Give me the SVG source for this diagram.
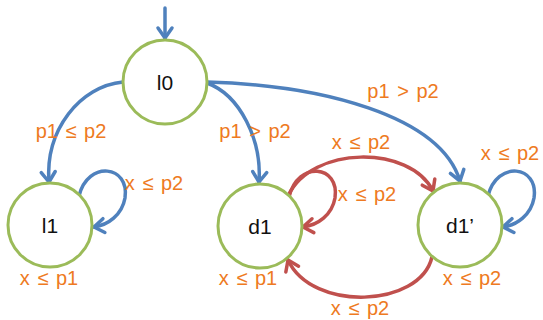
<svg xmlns="http://www.w3.org/2000/svg" width="543" height="320" viewBox="0 0 543 320">
<defs>
<style>
.node{fill:#fff;stroke:#9BBB59;stroke-width:3}
.nl{font-family:"Liberation Sans",Arial,sans-serif;font-size:21px;fill:#111;text-anchor:middle}
.lb{font-family:"Liberation Sans",Arial,sans-serif;font-size:20px;fill:#EE7A22;text-anchor:middle;word-spacing:2px}
.b{fill:none;stroke:#4F81BD;stroke-width:3.5;stroke-linecap:round}
.r{fill:none;stroke:#C0504D;stroke-width:3.5;stroke-linecap:round}
</style>
<marker id="ab" markerUnits="userSpaceOnUse" orient="auto" markerWidth="20" markerHeight="20" refX="0" refY="0" viewBox="-12 -10 14 20" overflow="visible">
<path d="M-10,-7 L0,0 L-10,7" fill="none" stroke="#4F81BD" stroke-width="3.5" stroke-linecap="round" stroke-linejoin="round"/>
</marker>
<marker id="ar" markerUnits="userSpaceOnUse" orient="auto" markerWidth="20" markerHeight="20" refX="0" refY="0" viewBox="-12 -10 14 20" overflow="visible">
<path d="M-10,-7 L0,0 L-10,7" fill="none" stroke="#C0504D" stroke-width="3.5" stroke-linecap="round" stroke-linejoin="round"/>
</marker>
</defs>
<rect width="543" height="320" fill="#fff"/>
<g id="connectors">
<path class="b" d="M165,8 L165,38" marker-end="url(#ab)"/>
<path class="b" d="M123,82 C80,86 45,130 49,182" marker-end="url(#ab)"/>
<path class="b" d="M207,83 C240,95 262,140 259,182" marker-end="url(#ab)"/>
<path class="b" d="M207,82 C320,85 440,115 460,181" marker-end="url(#ab)"/>
<path class="b" d="M79,196 C88,160 130,165 125,198 C122,215 108,225 94,227" marker-end="url(#ab)"/>
<path class="b" d="M488,196 C497,160 539,165 534,198 C531,215 517,225 503,227" marker-end="url(#ab)"/>
<path class="r" d="M289,197 C298,160 340,165 335,198 C332,215 318,225 303,227" marker-end="url(#ar)"/>
<path class="r" d="M288,196 C312,145 410,145 433,191" marker-end="url(#ar)"/>
<path class="r" d="M432,257 C420,308 312,312 288,260" marker-end="url(#ar)"/>
</g>
<g id="l0"><circle class="node" cx="165" cy="82" r="42"/><text class="nl" x="165" y="90">l0</text></g>
<g id="l1"><circle class="node" cx="50" cy="225" r="42"/><text class="nl" x="50" y="233">l1</text></g>
<g id="d1"><circle class="node" cx="260" cy="226" r="42"/><text class="nl" x="260" y="234">d1</text></g>
<g id="d1p"><circle class="node" cx="460" cy="225" r="42"/><text class="nl" x="460" y="233">d1’</text></g>
<g id="labels">
<text class="lb" x="71" y="138">p1 ≤ p2</text>
<text class="lb" x="255" y="138">p1 &gt; p2</text>
<text class="lb" x="403" y="98">p1 &gt; p2</text>
<text class="lb" x="361" y="149">x ≤ p2</text>
<text class="lb" x="510" y="160">x ≤ p2</text>
<text class="lb" x="154" y="190">x ≤ p2</text>
<text class="lb" x="367" y="201">x ≤ p2</text>
<text class="lb" x="49" y="285">x ≤ p1</text>
<text class="lb" x="248" y="285">x ≤ p1</text>
<text class="lb" x="472" y="285">x ≤ p2</text>
<text class="lb" x="360" y="315">x ≤ p2</text>
</g>
</svg>
